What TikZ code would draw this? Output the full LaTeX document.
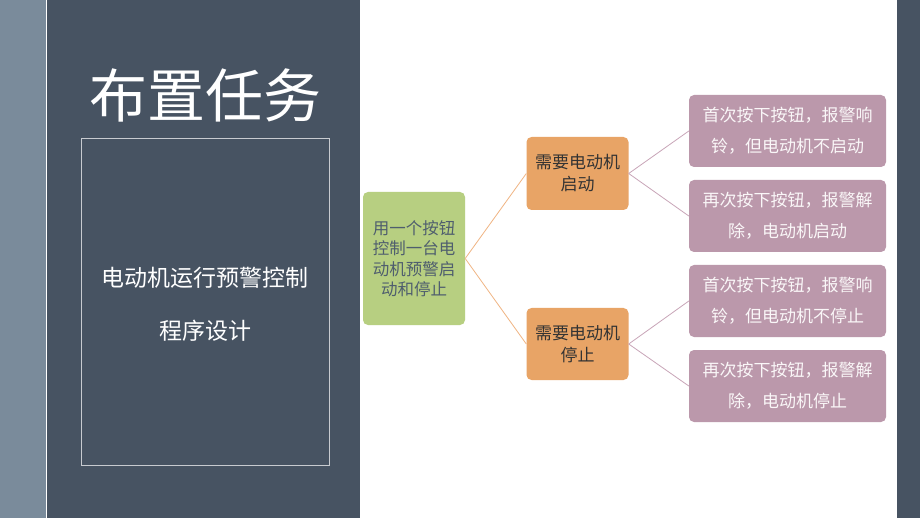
\documentclass[tikz,border=0pt]{standalone}
\usepackage{fontspec}
\newfontfamily\cjk{Noto Sans CJK SC}
\definecolor{strip}{HTML}{7A8B9B}
\definecolor{panel}{HTML}{475362}
\definecolor{gbox}{HTML}{B7CF81}
\definecolor{obox}{HTML}{E8A466}
\definecolor{pbox}{HTML}{BB98AB}
\definecolor{gtext}{HTML}{4F5E6E}
\definecolor{olink}{HTML}{F0B583}
\definecolor{plink}{HTML}{C8A5B8}
\tikzset{
  box/.style={rounded corners=5pt, inner sep=0pt, align=center},
  gnode/.style={box, fill=gbox, text=gtext, font=\cjk\fontsize{16.5}{20.5}\selectfont},
  onode/.style={box, fill=obox, text=black!80, font=\cjk\fontsize{17}{22}\selectfont},
  pnode/.style={box, fill=pbox, text=white!92!pbox, font=\cjk\fontsize{17}{31}\selectfont},
  olinkst/.style={draw=olink, line width=0.8pt},
  plinkst/.style={draw=plink, line width=0.8pt},
}
\begin{document}
\begin{tikzpicture}[x=1pt,y=-1pt]
\useasboundingbox (0,0) rectangle (920,518);
\fill[white] (0,0) rectangle (920,518);
\fill[strip] (0,0) rectangle (46,518);
\fill[panel] (47,0) rectangle (360,518);
\fill[panel] (897,0) rectangle (920,518);
\node[text=white, font=\cjk\fontsize{58}{60}\selectfont] (title) at (205,95) {布置任务};
\draw[white!70!panel, line width=0.8pt] (81,138) rectangle (329,465);
\node[text=white, font=\cjk\fontsize{23}{25}\selectfont] (sub1) at (205,278) {电动机运行预警控制};
\node[text=white, font=\cjk\fontsize{23}{25}\selectfont] (sub2) at (205,331) {程序设计};
\node[gnode, minimum width=102pt, minimum height=133pt] (g) at (414,258.5) {用一个按钮\\控制一台电\\动机预警启\\动和停止};
\node[onode, minimum width=102pt, minimum height=73pt] (o1) at (577.5,173.5) {需要电动机\\启动};
\node[onode, minimum width=102pt, minimum height=72pt] (o2) at (577.5,344) {需要电动机\\停止};
\node[pnode, minimum width=197pt, minimum height=72pt] (p1) at (787.5,131) {首次按下按钮，报警响\\铃，但电动机不启动};
\node[pnode, minimum width=197pt, minimum height=72pt] (p2) at (787.5,216) {再次按下按钮，报警解\\除，电动机启动};
\node[pnode, minimum width=197pt, minimum height=72pt] (p3) at (787.5,301) {首次按下按钮，报警响\\铃，但电动机不停止};
\node[pnode, minimum width=197pt, minimum height=72pt] (p4) at (787.5,386) {再次按下按钮，报警解\\除，电动机停止};
\draw[olinkst] (g.east) -- (o1.west);
\draw[olinkst] (g.east) -- (o2.west);
\draw[plinkst] (o1.east) -- (p1.west);
\draw[plinkst] (o1.east) -- (p2.west);
\draw[plinkst] (o2.east) -- (p3.west);
\draw[plinkst] (o2.east) -- (p4.west);
\end{tikzpicture}
\end{document}
